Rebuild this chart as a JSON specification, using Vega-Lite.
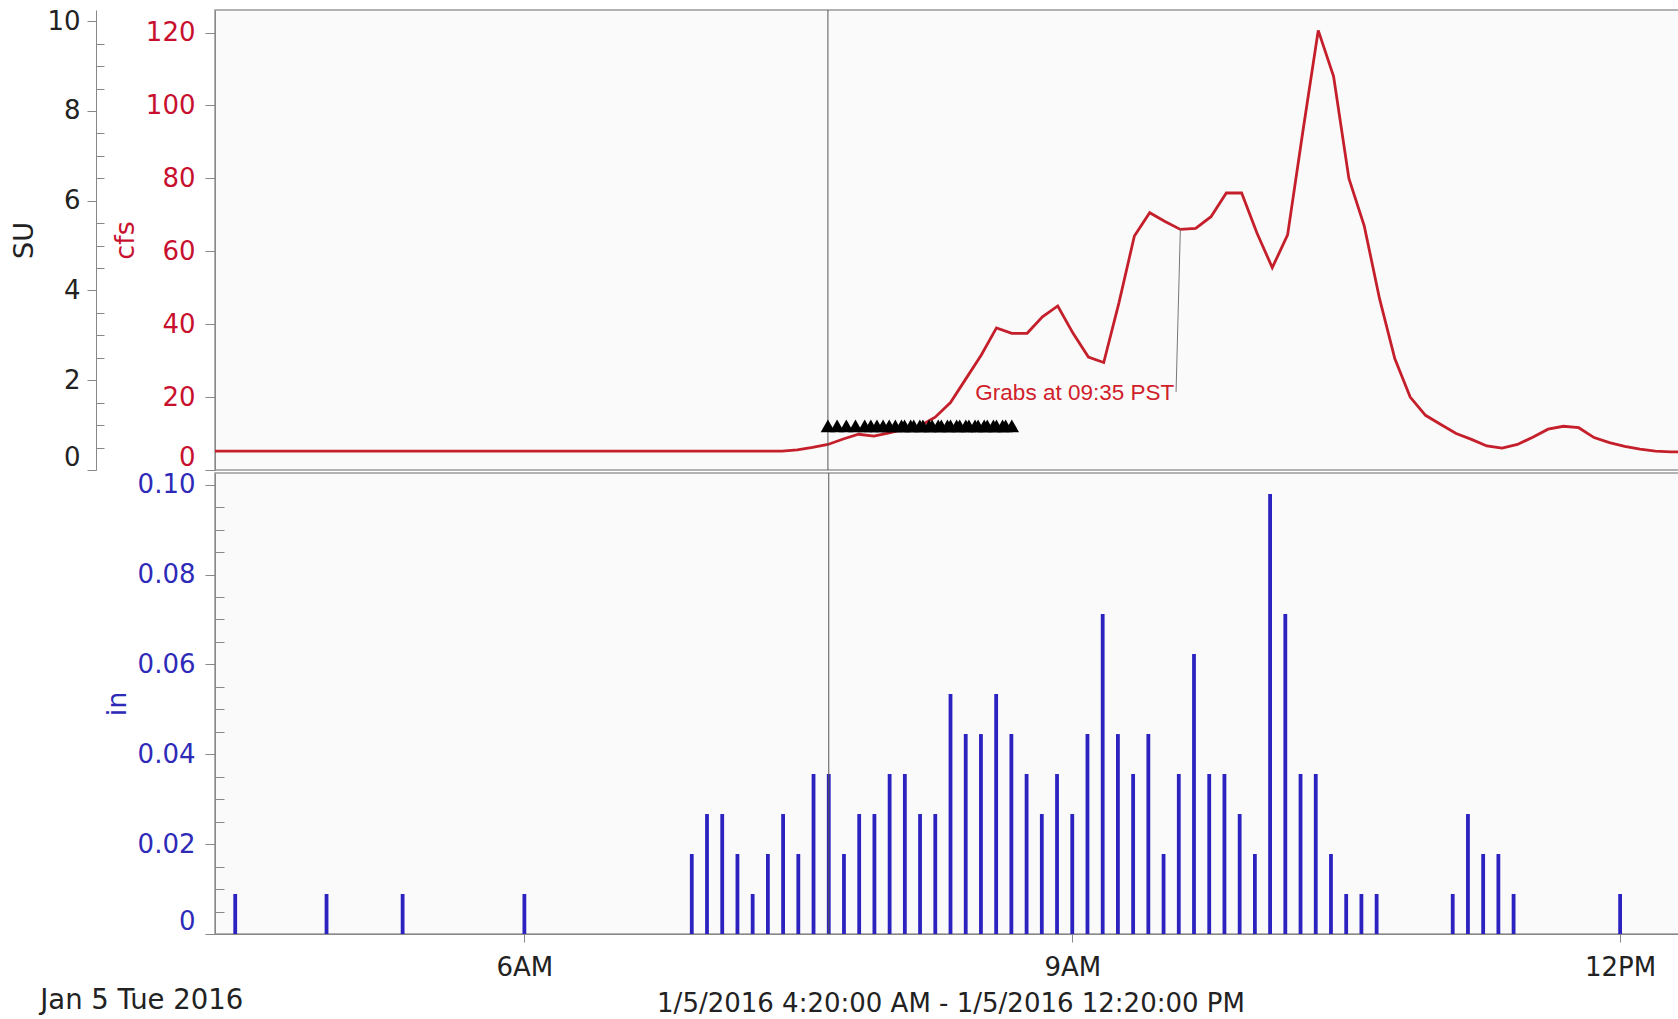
{
  "$schema": "https://vega.github.io/schema/vega-lite/v6.json",
  "padding": {"left": 10, "top": 7, "right": 0, "bottom": 0},
  "background": "white",
  "bounds": "flush",
  "config": {
    "font": "DejaVu Sans",
    "view": {"stroke": "#9a9a9a", "strokeWidth": 1.5, "fill": "#fafafa"},
    "axis": {"labelFont": "DejaVu Sans", "titleFont": "DejaVu Sans", "labelFontSize": 26, "titleFontSize": 27, "titleFontWeight": "normal", "domainColor": "#999", "tickColor": "#999", "grid": false},
    "concat": {"spacing": 3}
  },
  "title": {"text": "Jan 5 Tue 2016", "orient": "bottom", "anchor": "start", "frame": "bounds", "font": "DejaVu Sans", "fontSize": 27.5, "fontWeight": "normal", "color": "#222", "offset": -30, "dx": 30},
  "datasets": {
    "cfs": [
      {"t": "2016-01-05T04:20", "cfs": 5.2}, {"t": "2016-01-05T05:00", "cfs": 5.2}, {"t": "2016-01-05T06:00", "cfs": 5.2},
      {"t": "2016-01-05T07:00", "cfs": 5.2}, {"t": "2016-01-05T07:25", "cfs": 5.2}, {"t": "2016-01-05T07:30", "cfs": 5.5},
      {"t": "2016-01-05T07:35", "cfs": 6.2}, {"t": "2016-01-05T07:40", "cfs": 7.0}, {"t": "2016-01-05T07:45", "cfs": 8.5},
      {"t": "2016-01-05T07:50", "cfs": 9.8}, {"t": "2016-01-05T07:55", "cfs": 9.3}, {"t": "2016-01-05T08:00", "cfs": 10.2},
      {"t": "2016-01-05T08:05", "cfs": 11.2}, {"t": "2016-01-05T08:10", "cfs": 12.1}, {"t": "2016-01-05T08:15", "cfs": 14.5},
      {"t": "2016-01-05T08:20", "cfs": 18.5}, {"t": "2016-01-05T08:25", "cfs": 25.0}, {"t": "2016-01-05T08:30", "cfs": 31.5},
      {"t": "2016-01-05T08:35", "cfs": 39.0}, {"t": "2016-01-05T08:40", "cfs": 37.5}, {"t": "2016-01-05T08:45", "cfs": 37.5},
      {"t": "2016-01-05T08:50", "cfs": 42.0}, {"t": "2016-01-05T08:55", "cfs": 45.0}, {"t": "2016-01-05T09:00", "cfs": 37.5},
      {"t": "2016-01-05T09:05", "cfs": 31.0}, {"t": "2016-01-05T09:10", "cfs": 29.5}, {"t": "2016-01-05T09:15", "cfs": 46.0},
      {"t": "2016-01-05T09:20", "cfs": 64.2}, {"t": "2016-01-05T09:25", "cfs": 70.6}, {"t": "2016-01-05T09:30", "cfs": 68.2},
      {"t": "2016-01-05T09:35", "cfs": 66.0}, {"t": "2016-01-05T09:40", "cfs": 66.3}, {"t": "2016-01-05T09:45", "cfs": 69.5},
      {"t": "2016-01-05T09:50", "cfs": 76.0}, {"t": "2016-01-05T09:55", "cfs": 76.0}, {"t": "2016-01-05T10:00", "cfs": 65.0},
      {"t": "2016-01-05T10:05", "cfs": 55.5}, {"t": "2016-01-05T10:10", "cfs": 64.5}, {"t": "2016-01-05T10:15", "cfs": 93.0},
      {"t": "2016-01-05T10:20", "cfs": 120.6}, {"t": "2016-01-05T10:25", "cfs": 108.0}, {"t": "2016-01-05T10:30", "cfs": 80.0},
      {"t": "2016-01-05T10:35", "cfs": 67.0}, {"t": "2016-01-05T10:40", "cfs": 47.0}, {"t": "2016-01-05T10:45", "cfs": 30.5},
      {"t": "2016-01-05T10:50", "cfs": 20.0}, {"t": "2016-01-05T10:55", "cfs": 15.0}, {"t": "2016-01-05T11:00", "cfs": 12.5},
      {"t": "2016-01-05T11:05", "cfs": 10.0}, {"t": "2016-01-05T11:10", "cfs": 8.4}, {"t": "2016-01-05T11:15", "cfs": 6.6},
      {"t": "2016-01-05T11:20", "cfs": 6.0}, {"t": "2016-01-05T11:25", "cfs": 7.0}, {"t": "2016-01-05T11:30", "cfs": 9.0},
      {"t": "2016-01-05T11:35", "cfs": 11.2}, {"t": "2016-01-05T11:40", "cfs": 12.0}, {"t": "2016-01-05T11:45", "cfs": 11.6},
      {"t": "2016-01-05T11:50", "cfs": 8.9}, {"t": "2016-01-05T11:55", "cfs": 7.5}, {"t": "2016-01-05T12:00", "cfs": 6.5},
      {"t": "2016-01-05T12:05", "cfs": 5.7}, {"t": "2016-01-05T12:10", "cfs": 5.2}, {"t": "2016-01-05T12:15", "cfs": 5.0},
      {"t": "2016-01-05T12:20", "cfs": 5.0}
    ],
    "rain": [
      {"t": "2016-01-05T04:25", "rain": 0.0089}, {"t": "2016-01-05T04:55", "rain": 0.0089}, {"t": "2016-01-05T05:20", "rain": 0.0089},
      {"t": "2016-01-05T06:00", "rain": 0.0089}, {"t": "2016-01-05T06:55", "rain": 0.0178}, {"t": "2016-01-05T07:00", "rain": 0.0267},
      {"t": "2016-01-05T07:05", "rain": 0.0267}, {"t": "2016-01-05T07:10", "rain": 0.0178}, {"t": "2016-01-05T07:15", "rain": 0.0089},
      {"t": "2016-01-05T07:20", "rain": 0.0178}, {"t": "2016-01-05T07:25", "rain": 0.0267}, {"t": "2016-01-05T07:30", "rain": 0.0178},
      {"t": "2016-01-05T07:35", "rain": 0.0356}, {"t": "2016-01-05T07:40", "rain": 0.0356}, {"t": "2016-01-05T07:45", "rain": 0.0178},
      {"t": "2016-01-05T07:50", "rain": 0.0267}, {"t": "2016-01-05T07:55", "rain": 0.0267}, {"t": "2016-01-05T08:00", "rain": 0.0356},
      {"t": "2016-01-05T08:05", "rain": 0.0356}, {"t": "2016-01-05T08:10", "rain": 0.0267}, {"t": "2016-01-05T08:15", "rain": 0.0267},
      {"t": "2016-01-05T08:20", "rain": 0.0534}, {"t": "2016-01-05T08:25", "rain": 0.0445}, {"t": "2016-01-05T08:30", "rain": 0.0445},
      {"t": "2016-01-05T08:35", "rain": 0.0534}, {"t": "2016-01-05T08:40", "rain": 0.0445}, {"t": "2016-01-05T08:45", "rain": 0.0356},
      {"t": "2016-01-05T08:50", "rain": 0.0267}, {"t": "2016-01-05T08:55", "rain": 0.0356}, {"t": "2016-01-05T09:00", "rain": 0.0267},
      {"t": "2016-01-05T09:05", "rain": 0.0445}, {"t": "2016-01-05T09:10", "rain": 0.0712}, {"t": "2016-01-05T09:15", "rain": 0.0445},
      {"t": "2016-01-05T09:20", "rain": 0.0356}, {"t": "2016-01-05T09:25", "rain": 0.0445}, {"t": "2016-01-05T09:30", "rain": 0.0178},
      {"t": "2016-01-05T09:35", "rain": 0.0356}, {"t": "2016-01-05T09:40", "rain": 0.0623}, {"t": "2016-01-05T09:45", "rain": 0.0356},
      {"t": "2016-01-05T09:50", "rain": 0.0356}, {"t": "2016-01-05T09:55", "rain": 0.0267}, {"t": "2016-01-05T10:00", "rain": 0.0178},
      {"t": "2016-01-05T10:05", "rain": 0.0979}, {"t": "2016-01-05T10:10", "rain": 0.0712}, {"t": "2016-01-05T10:15", "rain": 0.0356},
      {"t": "2016-01-05T10:20", "rain": 0.0356}, {"t": "2016-01-05T10:25", "rain": 0.0178}, {"t": "2016-01-05T10:30", "rain": 0.0089},
      {"t": "2016-01-05T10:35", "rain": 0.0089}, {"t": "2016-01-05T10:40", "rain": 0.0089}, {"t": "2016-01-05T11:05", "rain": 0.0089},
      {"t": "2016-01-05T11:10", "rain": 0.0267}, {"t": "2016-01-05T11:15", "rain": 0.0178}, {"t": "2016-01-05T11:20", "rain": 0.0178},
      {"t": "2016-01-05T11:25", "rain": 0.0089}, {"t": "2016-01-05T12:00", "rain": 0.0089}
    ],
    "grabs": [
      {"t": "2016-01-05T07:40", "cfs": 12.1}, {"t": "2016-01-05T07:43", "cfs": 12.1}, {"t": "2016-01-05T07:46", "cfs": 12.1},
      {"t": "2016-01-05T07:49", "cfs": 12.1}, {"t": "2016-01-05T07:52", "cfs": 12.1}, {"t": "2016-01-05T07:54", "cfs": 12.1},
      {"t": "2016-01-05T07:56", "cfs": 12.1}, {"t": "2016-01-05T07:58", "cfs": 12.1}, {"t": "2016-01-05T08:00", "cfs": 12.1},
      {"t": "2016-01-05T08:02", "cfs": 12.1}, {"t": "2016-01-05T08:04", "cfs": 12.1}, {"t": "2016-01-05T08:05", "cfs": 12.1},
      {"t": "2016-01-05T08:07", "cfs": 12.1}, {"t": "2016-01-05T08:08", "cfs": 12.1}, {"t": "2016-01-05T08:10", "cfs": 12.1},
      {"t": "2016-01-05T08:11", "cfs": 12.1}, {"t": "2016-01-05T08:13", "cfs": 12.1}, {"t": "2016-01-05T08:14", "cfs": 12.1},
      {"t": "2016-01-05T08:16", "cfs": 12.1}, {"t": "2016-01-05T08:17", "cfs": 12.1}, {"t": "2016-01-05T08:19", "cfs": 12.1},
      {"t": "2016-01-05T08:20", "cfs": 12.1}, {"t": "2016-01-05T08:22", "cfs": 12.1}, {"t": "2016-01-05T08:23", "cfs": 12.1},
      {"t": "2016-01-05T08:25", "cfs": 12.1}, {"t": "2016-01-05T08:26", "cfs": 12.1}, {"t": "2016-01-05T08:28", "cfs": 12.1},
      {"t": "2016-01-05T08:29", "cfs": 12.1}, {"t": "2016-01-05T08:31", "cfs": 12.1}, {"t": "2016-01-05T08:32", "cfs": 12.1},
      {"t": "2016-01-05T08:34", "cfs": 12.1}, {"t": "2016-01-05T08:35", "cfs": 12.1}, {"t": "2016-01-05T08:37", "cfs": 12.1},
      {"t": "2016-01-05T08:38", "cfs": 12.1}, {"t": "2016-01-05T08:40", "cfs": 12.1}
    ],
    "note": [{"t": "2016-01-05T09:33", "cfs": 21, "label": "Grabs at 09:35 PST"}],
    "leader": [{"t1": "2016-01-05T09:33:36", "v1": 21.4, "t2": "2016-01-05T09:35", "v2": 66}],
    "marker": [{"t": "2016-01-05T07:40"}]
  },
  "vconcat": [
    {
      "width": 1471,
      "height": 460,
      "layer": [
        {
          "layer": [
            {
              "data": {"name": "cfs"},
              "mark": {"type": "line", "color": "#c41f2a", "strokeWidth": 2.8},
              "encoding": {
                "x": {"field": "t", "type": "temporal", "scale": {"domain": [{"year": 2016, "month": 1, "date": 5, "hours": 4, "minutes": 20}, {"year": 2016, "month": 1, "date": 5, "hours": 12, "minutes": 20}], "nice": false}, "axis": null},
                "y": {"field": "cfs", "type": "quantitative", "scale": {"domain": [0, 126.2], "nice": false, "zero": false},
                  "axis": {"orient": "left", "title": "cfs", "titleColor": "#c8102e", "labelColor": "#c8102e",
                    "values": [0,5,10,15,20,25,30,35,40,45,50,55,60,65,70,75,80,85,90,95,100,105,110,115,120,125],
                    "labelExpr": "datum.value % 20 === 0 ? datum.label : ''",
                    "tickSize": {"condition": {"test": "datum.value % 20 === 0", "value": 10}, "value": -9},
                    "labelFlush": true, "labelPadding": 10, "titlePadding": 6, "domainColor": "#888", "tickColor": "#888"}}
              }
            },
            {
              "data": {"name": "marker"},
              "mark": {"type": "rule", "color": "#555", "strokeWidth": 1},
              "encoding": {"x": {"field": "t", "type": "temporal", "axis": null}}
            },
            {
              "data": {"name": "leader"},
              "mark": {"type": "rule", "color": "#777", "strokeWidth": 1},
              "encoding": {
                "x": {"field": "t1", "type": "temporal", "axis": null},
                "x2": {"field": "t2"},
                "y": {"field": "v1", "type": "quantitative"},
                "y2": {"field": "v2"}
              }
            },
            {
              "data": {"name": "grabs"},
              "mark": {"type": "point", "shape": "triangle-up", "filled": true, "color": "black", "opacity": 1, "size": 210},
              "encoding": {
                "x": {"field": "t", "type": "temporal", "axis": null},
                "y": {"field": "cfs", "type": "quantitative"}
              }
            },
            {
              "data": {"name": "note"},
              "mark": {"type": "text", "color": "#d0202a", "font": "Liberation Sans", "fontSize": 22.5, "align": "right", "baseline": "middle"},
              "encoding": {
                "x": {"field": "t", "type": "temporal", "axis": null},
                "y": {"field": "cfs", "type": "quantitative"},
                "text": {"field": "label"}
              }
            }
          ]
        },
        {
          "data": {"values": [{}]},
          "mark": {"type": "point", "opacity": 0},
          "encoding": {
            "y": {"datum": 0, "type": "quantitative", "scale": {"domain": [0, 10.25], "nice": false, "zero": false},
              "axis": {"orient": "left", "offset": 119, "title": "SU", "titleColor": "#222", "labelColor": "#222",
                "values": [0,0.5,1,1.5,2,2.5,3,3.5,4,4.5,5,5.5,6,6.5,7,7.5,8,8.5,9,9.5,10],
                "labelExpr": "datum.value % 2 === 0 ? format(datum.value, 'd') : ''",
                "tickSize": {"condition": {"test": "datum.value % 2 === 0", "value": 9}, "value": -8},
                "labelFlush": true, "labelPadding": 7, "titlePadding": 8, "domainColor": "#888", "tickColor": "#888"}}
          }
        }
      ],
      "resolve": {"scale": {"y": "independent"}, "axis": {"y": "independent"}}
    },
    {
      "width": 1471,
      "height": 461,
      "layer": [
        {
          "data": {"name": "rain"},
          "mark": {"type": "bar", "size": 3.8, "color": "#2b22c0"},
          "encoding": {
            "x": {"field": "t", "type": "temporal",
              "scale": {"domain": [{"year": 2016, "month": 1, "date": 5, "hours": 4, "minutes": 20}, {"year": 2016, "month": 1, "date": 5, "hours": 12, "minutes": 20}], "nice": false},
              "axis": {"values": [{"year": 2016, "month": 1, "date": 5, "hours": 6}, {"year": 2016, "month": 1, "date": 5, "hours": 9}, {"year": 2016, "month": 1, "date": 5, "hours": 12}],
                "format": "%-I%p", "title": "1/5/2016 4:20:00 AM - 1/5/2016 12:20:00 PM", "labelColor": "#222", "titleColor": "#222", "titleFontSize": 26,
                "tickSize": 8, "labelPadding": 12, "titlePadding": 10, "labelFlush": false, "domainColor": "#888", "tickColor": "#888"}},
            "y": {"field": "rain", "type": "quantitative", "scale": {"domain": [0, 0.1026], "nice": false},
              "axis": {"title": "in", "titleColor": "#2e2ab8", "labelColor": "#2e2ab8",
                "values": [0,0.005,0.01,0.015,0.02,0.025,0.03,0.035,0.04,0.045,0.05,0.055,0.06,0.065,0.07,0.075,0.08,0.085,0.09,0.095,0.1],
                "labelExpr": "datum.value === 0 ? '0' : (round(datum.value * 1000) % 20 === 0 ? format(datum.value, '.2f') : '')",
                "tickSize": {"condition": {"test": "round(datum.value * 1000) % 20 === 0", "value": 10}, "value": -9},
                "labelFlush": true, "labelPadding": 10, "titlePadding": 6, "domainColor": "#888", "tickColor": "#888"}}
          }
        },
        {
          "data": {"name": "marker"},
          "mark": {"type": "rule", "color": "#555", "strokeWidth": 1},
          "encoding": {"x": {"field": "t", "type": "temporal"}}
        }
      ]
    }
  ]
}
